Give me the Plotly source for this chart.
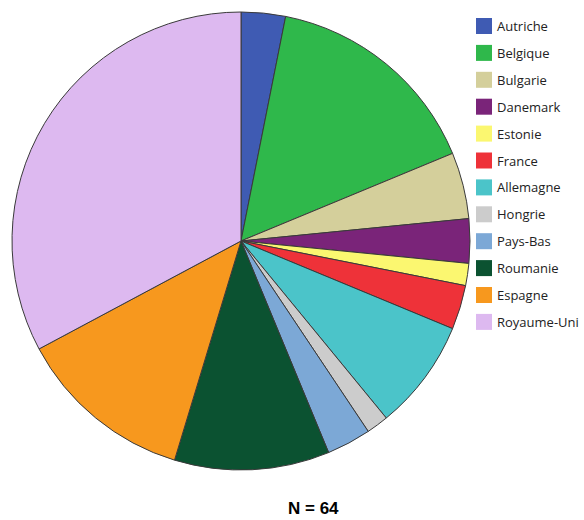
import plotly.graph_objects as go

# Country of origin breakdown (counts, N = 64)
countries = ["Autriche", "Belgique", "Bulgarie", "Danemark", "Estonie", "France",
             "Allemagne", "Hongrie", "Pays-Bas", "Roumanie", "Espagne", "Royaume-Uni"]
counts = [2, 10, 3, 2, 1, 2, 5, 1, 2, 7, 8, 21]
colors = ["#3F5BB3", "#2FB84B", "#D4CF9B", "#7A2479", "#FBF770", "#EE3239",
          "#4BC4C9", "#CCCCCC", "#7CA8D6", "#0B5231", "#F7981E", "#DDB9F0"]

W, H = 584, 520
total = sum(counts)

fig = go.Figure(go.Pie(
    labels=countries,
    values=counts,
    marker=dict(colors=colors, line=dict(color="#3a3a3a", width=1)),
    sort=False,
    direction="clockwise",
    rotation=0,
    textinfo="none",
    hoverinfo="label+value+percent",
    domain=dict(x=[12 / W, 470 / W], y=[1 - 470 / H, 1 - 12 / H]),
    showlegend=False,
))

# Legend column drawn as swatches + labels
x0, y_first, step, sw = 476, 18, 26.9, 16
for i, (name, col) in enumerate(zip(countries, colors)):
    top = y_first + i * step
    fig.add_shape(type="rect", xref="paper", yref="paper",
                  x0=x0 / W, x1=(x0 + sw) / W,
                  y0=1 - (top + sw) / H, y1=1 - top / H,
                  fillcolor=col, line=dict(width=0))
    fig.add_annotation(x=(x0 + sw + 3) / W, y=1 - (top + sw / 2) / H,
                       xref="paper", yref="paper", xanchor="left", yanchor="middle",
                       text=name, showarrow=False,
                       font=dict(family="Open Sans", size=13, color="#222222"))

fig.add_annotation(x=313 / W, y=1 - 508 / H, xref="paper", yref="paper",
                   text=f"<b>N = {total}</b>", showarrow=False,
                   xanchor="center", yanchor="middle",
                   font=dict(family="Liberation Sans", size=17, color="#000000"))

fig.update_layout(width=W, height=H, margin=dict(l=0, r=0, t=0, b=0),
                  paper_bgcolor="white", plot_bgcolor="white")

fig.write_html("out.html")
